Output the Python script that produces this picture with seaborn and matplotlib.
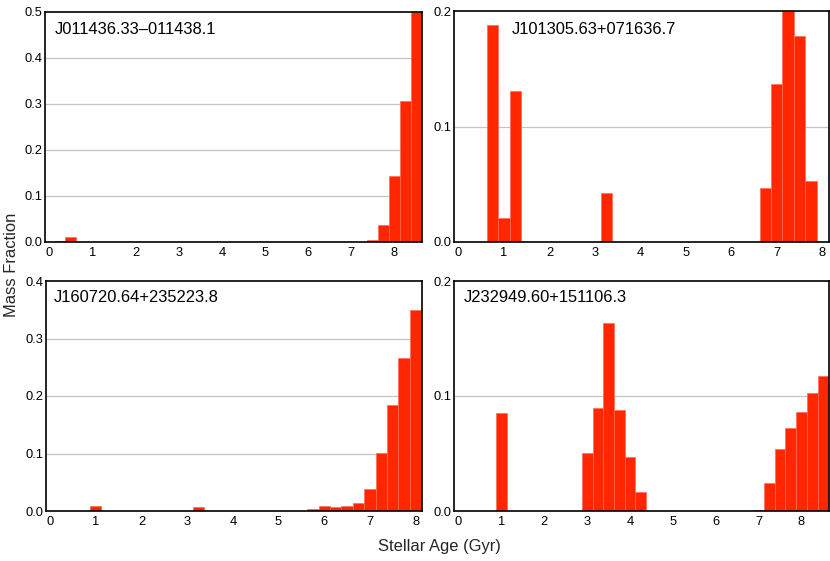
import matplotlib
matplotlib.use("Agg")
import matplotlib.pyplot as plt
import seaborn as sns
import pandas as pd

# ---- data (bin centres in Gyr, mass fraction per 0.25 Gyr bin) ----
names = ["J011436.33\u2013011438.1", "J101305.63+071636.7",
         "J160720.64+235223.8", "J232949.60+151106.3"]

age1 = [0.25, 0.5, 3.25, 7.5, 7.75, 8.0, 8.25, 8.5]
frac1 = [0.0014, 0.0108, 0.0007, 0.0036, 0.038, 0.143, 0.306, 0.5]

age2 = [0.75, 1.0, 1.25, 3.25, 6.75, 7.0, 7.25, 7.5, 7.75]
frac2 = [0.188, 0.0205, 0.131, 0.0424, 0.0467, 0.1366, 0.2, 0.1784, 0.053]

age3 = [1.0, 3.25, 5.75, 6.0, 6.25, 6.5, 6.75, 7.0, 7.25, 7.5, 7.75, 8.0]
frac3 = [0.0093, 0.0075, 0.0035, 0.0081, 0.0064, 0.0081, 0.0133, 0.0377,
         0.1003, 0.1838, 0.2667, 0.349]

age4 = [1.0, 3.0, 3.25, 3.5, 3.75, 4.0, 4.25, 7.0, 7.25, 7.5, 7.75, 8.0, 8.25, 8.5]
frac4 = [0.0852, 0.0507, 0.0899, 0.1638, 0.0875, 0.047, 0.0168, 0.0006,
         0.0243, 0.0536, 0.0725, 0.0861, 0.1023, 0.1171]

ymax = [0.5, 0.2, 0.4, 0.2]
xmax = [8.64, 8.15, 8.14, 8.65]
yticks = [[0, 0.1, 0.2, 0.3, 0.4, 0.5], [0, 0.1, 0.2],
          [0, 0.1, 0.2, 0.3, 0.4], [0, 0.1, 0.2]]
xticks = list(range(0, 9))

ages = [age1, age2, age3, age4]
fracs = [frac1, frac2, frac3, frac4]

# ---- figure layout (pixel boxes: left, top, right, bottom) ----
W, H = 830, 561
boxes = [(45, 12, 422, 242), (454, 11, 829, 242),
         (45.5, 281, 422, 511), (454.3, 281, 829.3, 511)]
label_off = [(10, 18), (57.7, 18), (8.5, 16.5), (9, 16.5)]

sns.set_style("white")
plt.rcParams["font.family"] = ["Liberation Sans", "DejaVu Sans"]

fig = plt.figure(figsize=(W / 100, H / 100), dpi=100)
fig.patch.set_facecolor("white")

for i in range(4):
    l, t, r, b = boxes[i]
    ax = fig.add_axes([l / W, (H - b) / H, (r - l) / W, (b - t) / H])
    df = pd.DataFrame({"age": ages[i], "frac": fracs[i]})
    ax.set_axisbelow(True)
    for yv in yticks[i][1:-1]:
        ax.axhline(yv, color="#c4c4c4", lw=0.9, zorder=0)
    sns.barplot(data=df, x="age", y="frac", native_scale=True, width=1.0,
                color="#ff2600", saturation=1, edgecolor="#ff6a55",
                linewidth=0.5, errorbar=None, ax=ax, zorder=2)
    ax.set_xlim(-0.1, xmax[i])
    ax.set_ylim(0, ymax[i])
    ax.set_xticks(xticks)
    ax.set_xticklabels([str(v) for v in xticks])
    ax.set_yticks(yticks[i])
    ax.set_yticklabels([f"{v:.1f}" for v in yticks[i]])
    ax.tick_params(axis="both", length=0, labelsize=9.3, colors="black")
    ax.tick_params(axis="x", pad=3.5)
    ax.tick_params(axis="y", pad=1.8)
    ax.set_xlabel("")
    ax.set_ylabel("")
    for s in ax.spines.values():
        s.set_visible(True)
        s.set_color("black")
        s.set_linewidth(1.2)
        s.set_zorder(5)
    ox, oy = label_off[i]
    ax.text(ox / (r - l), 1 - oy / (b - t), names[i], transform=ax.transAxes,
            ha="left", va="center", fontsize=11.9, color="black")

fig.text(12 / W, (H - 265) / H, "Mass Fraction", rotation=90,
         ha="center", va="center", fontsize=11.9)
fig.text(439 / W, (H - 546.5) / H, "Stellar Age (Gyr)",
         ha="center", va="center", fontsize=11.9)

fig.savefig("out.png", dpi=100, facecolor="white")
